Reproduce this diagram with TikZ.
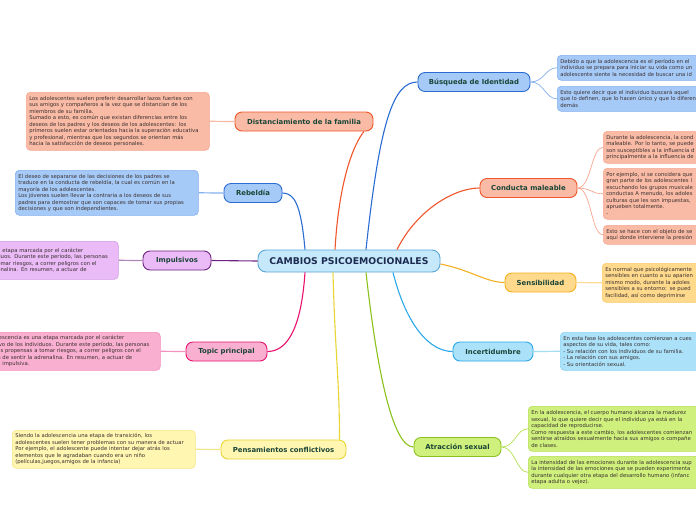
\documentclass[tikz,border=0pt]{standalone}
\usepackage{fontspec}
\setmainfont{DejaVu Sans}
\definecolor{topictext}{HTML}{1A4537}
\definecolor{centraltext}{HTML}{1C2B50}
\definecolor{detailtext}{HTML}{3A3030}
\definecolor{salfill}{HTML}{F9BBA5}
\definecolor{salline}{HTML}{F0562A}
\definecolor{salbox}{HTML}{F6A88F}
\definecolor{blufill}{HTML}{A6CAF7}
\definecolor{bluline}{HTML}{2A6CD2}
\definecolor{blubox}{HTML}{84B0EE}
\definecolor{purfill}{HTML}{EBBBF7}
\definecolor{purline}{HTML}{6E2482}
\definecolor{purbox}{HTML}{D49BE6}
\definecolor{pinfill}{HTML}{F9AFD0}
\definecolor{pinline}{HTML}{E8126F}
\definecolor{pinbox}{HTML}{F590BE}
\definecolor{yelfill}{HTML}{FFF6B2}
\definecolor{yelline}{HTML}{E8D532}
\definecolor{yelbox}{HTML}{F6E68A}
\definecolor{ambfill}{HTML}{FFD98C}
\definecolor{ambline}{HTML}{F5B020}
\definecolor{ambbox}{HTML}{FBCB6A}
\definecolor{cyafill}{HTML}{ABE1F9}
\definecolor{cyaline}{HTML}{2BA8E8}
\definecolor{cyabox}{HTML}{8DD3F3}
\definecolor{grnfill}{HTML}{CFF07C}
\definecolor{grnline}{HTML}{8CC21E}
\definecolor{grnbox}{HTML}{B6DF52}
\definecolor{cenfill}{HTML}{C6E8FB}
\definecolor{cenline}{HTML}{5AA6D8}
\begin{document}
\begin{tikzpicture}[x=1pt,y=-1pt,
  topic/.style={draw, rounded corners=7pt, line width=0.9pt, minimum height=19pt,
    inner sep=2pt, font=\bfseries\fontsize{6.9}{8}\selectfont, text=topictext},
  central/.style={draw=cenline, fill=cenfill, rounded corners=8pt, line width=0.9pt,
    minimum width=182pt, minimum height=22pt, inner sep=2pt,
    font=\bfseries\fontsize{9.3}{10}\selectfont, text=centraltext},
  detail/.style={draw, rounded corners=4pt, line width=0.6pt, anchor=north west,
    inner sep=3pt, align=left, font=\fontsize{5.3}{6.5}\selectfont, text=detailtext},
  mainline/.style={line width=1.1pt},
  subline/.style={line width=1.2pt}
]
\useasboundingbox (0,0) rectangle (696,520);
\clip (0,0) rectangle (696,520);
\fill[white] (0,0) rectangle (696,520);

% detail boxes
\node[detail, fill=salfill, draw=salbox, text width=177pt, minimum width=183pt, minimum height=58pt] (distbox) at (26,92)
{Los adolescentes suelen preferir desarrollar lazos fuertes con\\sus amigos y compañeros a la vez que se distancian de los\\miembros de su familia.\\Sumado a esto, es común que existan diferencias entre los\\deseos de los padres y los deseos de los adolescentes: los\\primeros suelen estar orientados hacia la superación educativa\\y profesional, mientras que los segundos se orientan más\\hacia la satisfacción de deseos personales.};
\node[detail, fill=blufill, draw=blubox, text width=177pt, minimum width=183pt, minimum height=45pt] (rebbox) at (15,170)
{El deseo de separarse de las decisiones de los padres se\\traduce en la conducta de rebeldía, la cual es común en la\\mayoría de los adolescentes.\\Los jóvenes suelen llevar la contraria a los deseos de sus\\padres para demostrar que son capaces de tomar sus propias\\decisiones y que son independientes.};
\node[detail, fill=purfill, draw=purbox, text width=118pt, minimum width=124pt, minimum height=38pt] (impbox) at (-6,241)
{a etapa marcada por el carácter\\duos. Durante este período, las personas\\omar riesgos, a correr peligros con el\\enalina. En resumen, a actuar de};
\node[detail, fill=pinfill, draw=pinbox, text width=160pt, minimum width=166pt, minimum height=38pt] (topbox) at (-6,332)
{lescencia es una etapa marcada por el carácter\\ivo de los individuos. Durante este período, las personas\\ás propensas a tomar riesgos, a correr peligros con el\\n de sentir la adrenalina. En resumen, a actuar de\\a impulsiva.};
\node[detail, fill=yelfill, draw=yelbox, text width=177pt, minimum width=183pt, minimum height=38pt] (penbox) at (12,430)
{Siendo la adolescencia una etapa de transición, los\\adolescentes suelen tener problemas con su manera de actuar\\Por ejemplo, el adolescente puede intentar dejar atrás los\\elementos que le agradaban cuando era un niño\\(películas,juegos,amigos de la infancia)};
\node[detail, fill=blufill, draw=blubox, text width=174pt, minimum width=180pt, minimum height=25pt] (bus1) at (557,55)
{Debido a que la adolescencia es el período en el\\individuo se prepara para iniciar su vida como un\\adolescente siente la necesidad de buscar una id};
\node[detail, fill=blufill, draw=blubox, text width=174pt, minimum width=180pt, minimum height=25pt] (bus2) at (557,86)
{Esto quiere decir que el individuo buscará aquel\\que lo definen, que lo hacen único y que lo diferen\\demás};
\node[detail, fill=salfill, draw=salbox, text width=134pt, minimum width=140pt, minimum height=32pt] (con1) at (603,131)
{Durante la adolescencia, la cond\\maleable. Por lo tanto, se puede\\son susceptibles a la influencia d\\principalmente a la influencia de};
\node[detail, fill=salfill, draw=salbox, text width=134pt, minimum width=140pt, minimum height=51pt] (con2) at (603,168)
{Por ejemplo, si se considera que\\gran parte de los adolescentes l\\escuchando los grupos musicale\\conductas A menudo, los adoles\\culturas que les son impuestas,\\aprueben totalmente.\\-};
\node[detail, fill=salfill, draw=salbox, text width=134pt, minimum width=140pt, minimum height=19pt] (con3) at (603,225)
{Esto se hace con el objeto de se\\aquí donde interviene la presión};
\node[detail, fill=ambfill, draw=ambbox, text width=134pt, minimum width=140pt, minimum height=39pt] (senbox) at (602,263)
{Es normal que psicológicamente\\sensibles en cuanto a su aparien\\mismo modo, durante la adoles\\sensibles a su entorno: se pued\\facilidad, así como deprimirse};
\node[detail, fill=cyafill, draw=cyabox, text width=174pt, minimum width=180pt, minimum height=38pt] (incbox) at (560,332)
{En esta fase los adolescentes comienzan a cues\\aspectos de su vida, tales como:\\- Su relación con los individuos de su familia.\\- La relación con sus amigos.\\- Su orientación sexual.};
\node[detail, fill=grnfill, draw=grnbox, text width=204pt, minimum width=210pt, minimum height=45pt] (atr1) at (528,406)
{En la adolescencia, el cuerpo humano alcanza la madurez\\sexual, lo que quiere decir que el individuo ya está en la\\capacidad de reproducirse.\\Como respuesta a este cambio, los adolescentes comienzan\\sentirse atraídos sexualmente hacia sus amigos o compañe\\de clases.};
\node[detail, fill=grnfill, draw=grnbox, text width=204pt, minimum width=210pt, minimum height=32pt] (atr2) at (528,456)
{La intensidad de las emociones durante la adolescencia sup\\la intensidad de las emociones que se pueden experimenta\\durante cualquier otra etapa del desarrollo humano (infanc\\etapa adulta o vejez).};

% central and topics
\node[central] (c) at (349,261) {CAMBIOS PSICOEMOCIONALES};
\node[topic, fill=blufill, draw=bluline, minimum width=112pt] (bus) at (474,82) {Búsqueda de Identidad};
\node[topic, fill=salfill, draw=salline, minimum width=138pt] (dist) at (304,121.5) {Distanciamiento de la familia};
\node[topic, fill=blufill, draw=bluline, minimum width=58pt] (reb) at (253,193) {Rebeldía};
\node[topic, fill=purfill, draw=purline, minimum width=68pt] (imp) at (177,260.5) {Impulsivos};
\node[topic, fill=pinfill, draw=pinline, minimum width=81pt] (top) at (226.5,351.5) {Topic principal};
\node[topic, fill=yelfill, draw=yelline, minimum width=125pt] (pen) at (283.5,449.5) {Pensamientos conflictivos};
\node[topic, fill=salfill, draw=salline, minimum width=97pt] (con) at (528.5,188) {Conducta maleable};
\node[topic, fill=ambfill, draw=ambline, minimum width=71pt] (sen) at (540.5,282.5) {Sensibilidad};
\node[topic, fill=cyafill, draw=cyaline, minimum width=80pt] (inc) at (493,351.5) {Incertidumbre};
\node[topic, fill=grnfill, draw=grnline, minimum width=87pt] (atr) at (457.5,447) {Atracción sexual};

% main connectors
\draw[mainline, bluline] ([xshift=17pt]c.north) .. controls +(14,-130) and +(-24,0) .. (bus.west);
\draw[mainline, salline] ([xshift=-14pt]c.north) .. controls +(4,-70) and +(-10,12) .. ([xshift=60pt]dist.south);
\draw[mainline, bluline] ([xshift=-44pt]c.north) .. controls +(-4,-45) and +(12,0) .. (reb.east);
\draw[mainline, purline] (c.west) -- (imp.east);
\draw[mainline, pinline] ([xshift=-44pt]c.south) .. controls +(-4,60) and +(18,0) .. (top.east);
\draw[mainline, yelline] ([xshift=-16pt]c.south) .. controls +(2,80) and +(0,-60) .. ([xshift=56pt]pen.north);
\draw[mainline, grnline] ([xshift=17pt]c.south) .. controls +(10,90) and +(-22,0) .. (atr.west);
\draw[mainline, cyaline] ([xshift=44pt]c.south) .. controls +(14,55) and +(-22,0) .. (inc.west);
\draw[mainline, ambline] ([yshift=-3pt]c.east) .. controls +(30,6) and +(-18,0) .. (sen.west);
\draw[mainline, salline] ([xshift=48pt]c.north) .. controls +(20,-40) and +(-25,0) .. (con.west);

% sub connectors
\draw[subline, salbox!80] (dist.west) -- (distbox.east);
\draw[subline, blubox] (reb.west) -- (rebbox.east);
\draw[subline, purline!55] (imp.west) -- (impbox.east);
\draw[subline, pinbox] (top.west) -- (topbox.east);
\draw[subline, yelbox] (pen.west) -- (penbox.east);
\draw[line width=0.7pt, blubox] (bus.east) .. controls +(14,0) and +(-12,0) .. (bus1.west);
\draw[line width=0.7pt, blubox] (bus.east) .. controls +(14,0) and +(-12,0) .. (bus2.west);
\draw[line width=0.7pt, salbox] (con.east) .. controls +(14,0) and +(-12,0) .. (con1.west);
\draw[line width=0.7pt, salbox] (con.east) .. controls +(14,0) and +(-12,0) .. (con2.west);
\draw[line width=0.7pt, salbox] (con.east) .. controls +(14,0) and +(-12,0) .. (con3.west);
\draw[subline, ambbox!70] (sen.east) -- (senbox.west);
\draw[subline, cyabox!80] (inc.east) -- (incbox.west);
\draw[line width=0.7pt, grnbox] (atr.east) .. controls +(14,0) and +(-12,0) .. (atr1.west);
\draw[line width=0.7pt, grnbox] (atr.east) .. controls +(14,0) and +(-12,0) .. (atr2.west);
\end{tikzpicture}
\end{document}
